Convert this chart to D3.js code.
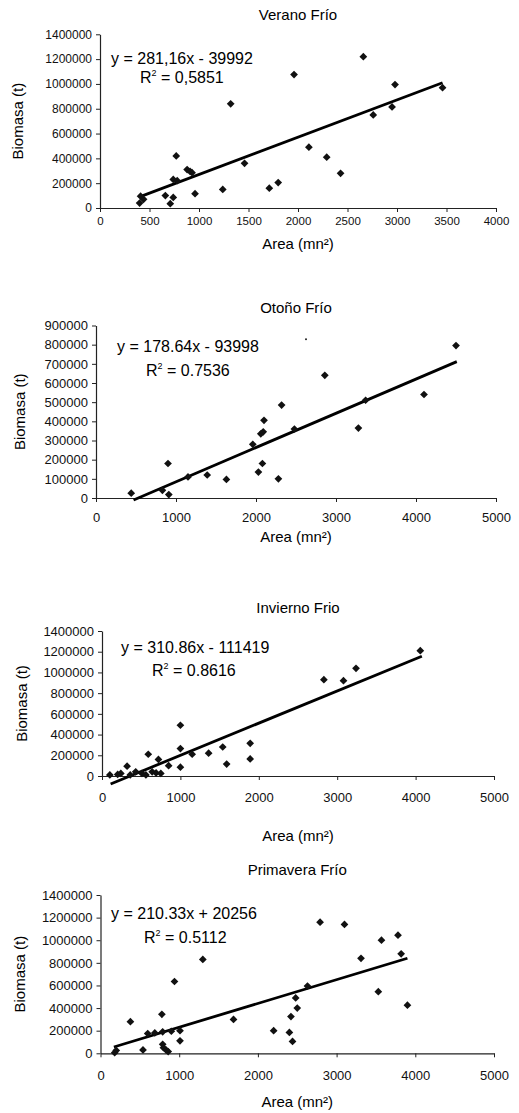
<!DOCTYPE html>
<html>
<head>
<meta charset="UTF-8">
<title>Biomasa vs Area</title>
<script src="https://cdn.jsdelivr.net/npm/d3@7"></script>
<style>
  body { margin: 0; background: #fff; }
  svg { display: block; font-family: "Liberation Sans", Arial, sans-serif; }
  .tick text { fill: #111; }
  .domain, .tick line { stroke: #222; }
</style>
</head>
<body>
<div id="chart"></div>
<script>
// --- data ---
var titles = ["Verano Frío", "Otoño Frío", "Invierno Frio", "Primavera Frío"];
var equations = ["y = 281,16x - 39992", "y = 178.64x - 93998", "y = 310.86x - 111419", "y = 210.33x + 20256"];
var r2Values = ["0,5851", "0.7536", "0.8616", "0.5112"];

var veranoArea = [410, 400, 440, 660, 710, 740, 740, 780, 770, 880, 910, 930, 960, 1240, 1320, 1460, 1710, 1800, 1960, 2110, 2290, 2430, 2660, 2760, 2950, 2980, 3460];
var veranoBiomasa = [95000, 40000, 70000, 100000, 35000, 85000, 230000, 220000, 420000, 310000, 295000, 285000, 115000, 150000, 840000, 360000, 160000, 205000, 1075000, 490000, 410000, 280000, 1220000, 750000, 815000, 995000, 970000];
var veranoTrendX = [400, 3460], veranoTrendY = [90000, 1010000];

var otonoArea = [440, 830, 900, 910, 1150, 1390, 1630, 1960, 2030, 2060, 2090, 2080, 2100, 2280, 2320, 2480, 2860, 3280, 3370, 4100, 4500];
var otonoBiomasa = [25000, 40000, 180000, 18000, 110000, 120000, 97000, 280000, 135000, 335000, 345000, 180000, 405000, 100000, 485000, 360000, 640000, 365000, 510000, 540000, 795000];
var otonoSpeckArea = [2625], otonoSpeckBiomasa = [828000];
var otonoTrendX = [470, 4510], otonoTrendY = [-10037, 711668];

var inviernoArea = [100, 200, 240, 320, 360, 430, 510, 560, 590, 640, 690, 720, 750, 850, 1000, 1000, 1000, 1150, 1360, 1540, 1590, 1890, 1890, 2830, 3080, 3240, 4060];
var inviernoBiomasa = [10000, 15000, 25000, 95000, 10000, 40000, 25000, 10000, 210000, 40000, 30000, 160000, 25000, 100000, 490000, 265000, 85000, 210000, 220000, 280000, 115000, 315000, 165000, 930000, 920000, 1040000, 1210000];
var inviernoTrendX = [110, 4080], inviernoTrendY = [-77224, 1156890];

var primaveraArea = [180, 200, 380, 540, 600, 690, 780, 790, 790, 800, 835, 860, 900, 940, 1010, 1010, 1300, 1690, 2200, 2400, 2440, 2420, 2480, 2500, 2630, 2790, 3100, 3310, 3530, 3570, 3780, 3820, 3900];
var primaveraBiomasa = [5000, 25000, 280000, 30000, 175000, 180000, 345000, 190000, 80000, 50000, 29000, 15000, 195000, 635000, 200000, 110000, 830000, 300000, 200000, 185000, 105000, 325000, 490000, 400000, 595000, 1160000, 1140000, 840000, 545000, 1000000, 1045000, 880000, 425000];
var primaveraTrendX = [170, 3900], primaveraTrendY = [56012, 840543];

var xTicks1 = [0, 500, 1000, 1500, 2000, 2500, 3000, 3500, 4000];
var xTicks5 = [0, 1000, 2000, 3000, 4000, 5000];
var yTicks14 = [0, 200000, 400000, 600000, 800000, 1000000, 1200000, 1400000];
var yTicks9 = [0, 100000, 200000, 300000, 400000, 500000, 600000, 700000, 800000, 900000];

// --- layout per panel ---
var panels = [
  { xs: veranoArea, ys: veranoBiomasa, tx: veranoTrendX, ty: veranoTrendY,
    xMax: 4000, yMax: 1400000, xt: xTicks1, yt: yTicks14,
    left: 100, right: 496, top: 34.3, bottom: 208,
    titleY: 20, xLabY: 249, ylabX: 23, fs: 12, xfs: 11.5, xlabOff: 17,
    eq: [111, 64], r2: [140, 83] },
  { xs: otonoArea, ys: otonoBiomasa, tx: otonoTrendX, ty: otonoTrendY,
    speckX: otonoSpeckArea, speckY: otonoSpeckBiomasa,
    xMax: 5000, yMax: 900000, xt: xTicks5, yt: yTicks9,
    left: 96, right: 496, top: 325.5, bottom: 498,
    titleY: 313, xLabY: 542, ylabX: 25, fs: 13, xfs: 13, xlabOff: 23,
    eq: [117, 352], r2: [146, 376] },
  { xs: inviernoArea, ys: inviernoBiomasa, tx: inviernoTrendX, ty: inviernoTrendY,
    xMax: 5000, yMax: 1400000, xt: xTicks5, yt: yTicks14,
    left: 102, right: 494, top: 631, bottom: 776,
    titleY: 613, xLabY: 841, ylabX: 27, fs: 13, xfs: 13, xlabOff: 25,
    eq: [121, 653], r2: [152, 676] },
  { xs: primaveraArea, ys: primaveraBiomasa, tx: primaveraTrendX, ty: primaveraTrendY,
    xMax: 5000, yMax: 1400000, xt: xTicks5, yt: yTicks14,
    left: 100.5, right: 494, top: 895, bottom: 1053.3,
    titleY: 875, xLabY: 1107, ylabX: 25, fs: 13, xfs: 13, xlabOff: 25,
    eq: [111, 919], r2: [144, 943] }
];

var svg = d3.select("#chart").append("svg")
    .attr("width", 519).attr("height", 1113);

var diamond = d3.symbol().type(d3.symbolSquare).size(30);

panels.forEach(function(p, i) {
  var x = d3.scaleLinear().domain([0, p.xMax]).range([p.left, p.right]);
  var y = d3.scaleLinear().domain([0, p.yMax]).range([p.bottom, p.top]);
  var g = svg.append("g");
  var cx = (p.left + p.right) / 2;

  g.append("text").attr("x", cx).attr("y", p.titleY)
      .attr("text-anchor", "middle").attr("font-size", 15).text(titles[i]);

  var ya = g.append("g").attr("transform", "translate(" + p.left + ",0)")
      .call(d3.axisLeft(y).tickValues(p.yt).tickSize(4).tickSizeOuter(0).tickFormat(d3.format("d")));
  ya.selectAll("text").attr("font-size", p.fs).attr("x", -8);

  var xa = g.append("g").attr("transform", "translate(0," + p.bottom + ")")
      .call(d3.axisBottom(x).tickValues(p.xt).tickSize(4).tickSizeOuter(0).tickFormat(d3.format("d")));
  xa.selectAll("text").attr("font-size", p.xfs).attr("y", p.xlabOff - 8);
  g.selectAll(".domain").attr("stroke-width", 1.2);

  g.append("text").attr("x", cx).attr("y", p.xLabY)
      .attr("text-anchor", "middle").attr("font-size", 15).text("Area (mn²)");

  var cy = (p.top + p.bottom) / 2;
  g.append("text").attr("transform", "translate(" + p.ylabX + "," + cy + ") rotate(-90)")
      .attr("text-anchor", "middle").attr("font-size", 15).text("Biomasa (t)");

  g.append("line")
      .attr("x1", x(p.tx[0])).attr("y1", y(p.ty[0]))
      .attr("x2", x(p.tx[1])).attr("y2", y(p.ty[1]))
      .attr("stroke", "#000").attr("stroke-width", 2.8);

  g.selectAll(".pt").data(p.xs).enter().append("path")
      .attr("d", diamond)
      .attr("transform", function(d, j) { return "translate(" + x(d) + "," + y(p.ys[j]) + ") rotate(45)"; })
      .attr("fill", "#111");

  if (p.speckX) {
    g.selectAll(".speck").data(p.speckX).enter().append("circle")
        .attr("cx", function(d) { return x(d); })
        .attr("cy", function(d, j) { return y(p.speckY[j]); })
        .attr("r", 1).attr("fill", "#222");
  }

  g.append("text").attr("x", p.eq[0]).attr("y", p.eq[1])
      .attr("font-size", 16).text(equations[i]);
  var r = g.append("text").attr("x", p.r2[0]).attr("y", p.r2[1]).attr("font-size", 16);
  r.append("tspan").text("R");
  r.append("tspan").attr("font-size", 9).attr("dy", -7).text("2");
  r.append("tspan").attr("dy", 7).text(" = " + r2Values[i]);
});
</script>
</body>
</html>
